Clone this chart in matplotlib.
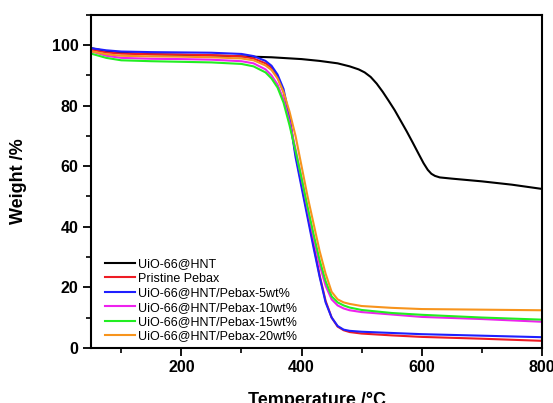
import matplotlib
matplotlib.use("Agg")
import matplotlib.pyplot as plt
from matplotlib.ticker import MultipleLocator

plt.rcParams['font.family'] = ['Liberation Sans', 'DejaVu Sans']

# temperatures (degC) shared by the Pebax based samples
temp = [50, 75, 100, 150, 200, 250, 300, 320, 340, 350, 360, 370, 380, 390,
        400, 410, 420, 430, 440, 450, 460, 470, 480, 500, 550, 600, 700, 800]

# UiO-66@HNT filler has its own temperature points
temp_hnt = [50, 75, 100, 150, 200, 250, 300, 350, 400, 430, 460, 480, 495,
            505, 515, 525, 535, 545, 555, 565, 575, 585, 595, 603, 610, 616,
            622, 630, 650, 700, 750, 800]
w_hnt = [99.0, 98.0, 97.5, 97.0, 96.8, 96.6, 96.3, 96.0, 95.4, 94.8, 94.0,
         93.0, 92.0, 91.0, 89.5, 87.3, 84.6, 81.6, 78.5, 75.0, 71.5, 67.8,
         64.0, 61.0, 58.8, 57.5, 56.8, 56.3, 55.9, 55.0, 53.9, 52.5]

w_pebax = [98.5, 97.6, 97.2, 97.0, 96.9, 96.7, 96.3, 95.6, 94.0, 92.5, 89.5,
           84.5, 76.0, 64.0, 54.0, 44.0, 34.0, 24.0, 15.5, 10.0, 7.0, 5.8,
           5.2, 4.7, 4.1, 3.6, 3.0, 2.3]
w_5 = [99.0, 98.3, 97.9, 97.7, 97.6, 97.5, 97.1, 96.4, 94.8, 93.2, 90.3,
       85.5, 76.0, 63.0, 53.0, 43.0, 33.0, 23.5, 15.0, 10.0, 7.2, 6.0,
       5.6, 5.3, 4.9, 4.5, 4.0, 3.5]
w_10 = [98.0, 96.5, 95.8, 95.5, 95.4, 95.2, 94.7, 94.0, 92.0, 90.0, 87.0,
        82.0, 74.5, 65.5, 56.0, 46.0, 36.5, 27.5, 20.5, 16.0, 14.0, 13.0,
        12.4, 11.8, 11.0, 10.2, 9.5, 8.6]
w_15 = [97.2, 95.8, 95.0, 94.7, 94.5, 94.3, 93.8, 93.0, 91.0, 89.0, 86.0,
        81.0, 73.5, 65.0, 56.0, 46.5, 37.5, 29.0, 22.0, 17.0, 15.0, 14.0,
        13.3, 12.5, 11.5, 10.9, 10.0, 9.3]
w_20 = [98.0, 97.0, 96.5, 96.3, 96.2, 96.0, 95.6, 95.0, 93.3, 91.8, 89.0,
        84.5, 78.0, 70.0, 60.0, 50.0, 41.0, 32.0, 24.5, 18.5, 16.0, 15.0,
        14.5, 13.8, 13.2, 12.8, 12.6, 12.4]

labels = ['UiO-66@HNT', 'Pristine Pebax', 'UiO-66@HNT/Pebax-5wt%',
          'UiO-66@HNT/Pebax-10wt%', 'UiO-66@HNT/Pebax-15wt%',
          'UiO-66@HNT/Pebax-20wt%']
colors = ['black', '#ee1c24', '#1f1fff', '#ee22ee', '#22ee22', '#f7941d']

fig = plt.figure(figsize=(5.53, 4.03), dpi=100)
ax = fig.add_axes([0.165, 0.137, 0.815, 0.826])

ax.plot(temp_hnt, w_hnt, color=colors[0], lw=1.5, label=labels[0])
series = [w_pebax, w_5, w_10, w_15, w_20]
for i, w in enumerate(series):
    ax.plot(temp, w, color=colors[i + 1], lw=1.5, label=labels[i + 1])

ax.set_xlim(50, 800)
ax.set_ylim(0, 110)
ax.xaxis.set_major_locator(MultipleLocator(200))
ax.xaxis.set_minor_locator(MultipleLocator(100))
ax.yaxis.set_major_locator(MultipleLocator(20))
ax.yaxis.set_minor_locator(MultipleLocator(10))
ax.set_yticks([0, 20, 40, 60, 80, 100])

ax.tick_params(which='major', direction='out', length=6, width=1.3,
               labelsize=11.5, pad=3)
ax.tick_params(which='minor', direction='out', length=3.5, width=1.2)
for lab in ax.get_xticklabels() + ax.get_yticklabels():
    lab.set_fontweight('bold')
for sp in ax.spines.values():
    sp.set_linewidth(1.5)

ax.set_xlabel('Temperature /\u00b0C', fontsize=13, fontweight='bold', labelpad=12)
ax.set_ylabel('Weight /%', fontsize=13, fontweight='bold', labelpad=18)

ax.legend(loc='lower left', frameon=False, fontsize=9, handlelength=2.4,
          handletextpad=0.3, labelspacing=0.19, borderaxespad=0.3,
          bbox_to_anchor=(0.01, -0.01))

fig.savefig('out.png', dpi=100)
